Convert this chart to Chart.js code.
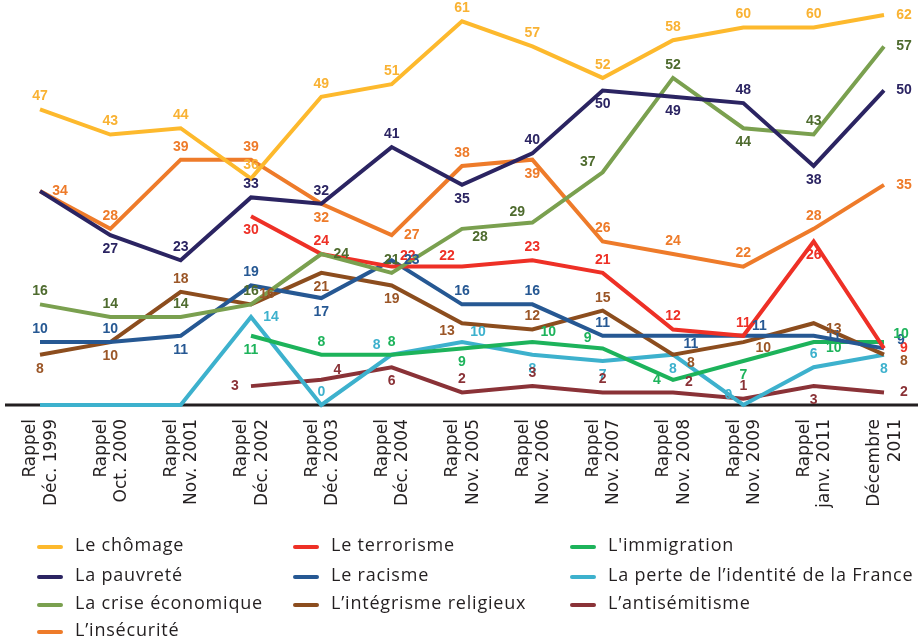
<!DOCTYPE html>
<html>
<head>
<meta charset="utf-8">
<script src="https://cdn.jsdelivr.net/npm/chart.js@4.4.0/dist/chart.umd.min.js"></script>
<style>
    html, body { margin: 0; padding: 0; background: #fff; }
    #chart { display: block; }
</style>
</head>
<body>
<canvas id="chart" width="918" height="643"></canvas>
<script>
// Survey waves (x axis)
const periods = [
    ['Rappel', 'Déc. 1999'], ['Rappel', 'Oct. 2000'], ['Rappel', 'Nov. 2001'],
    ['Rappel', 'Déc. 2002'], ['Rappel', 'Déc. 2003'], ['Rappel', 'Déc. 2004'],
    ['Rappel', 'Nov. 2005'], ['Rappel', 'Nov. 2006'], ['Rappel', 'Nov. 2007'],
    ['Rappel', 'Nov. 2008'], ['Rappel', 'Nov. 2009'], ['Rappel', 'janv. 2011'],
    ['Décembre', '2011']
];

// Values in % per theme
const chomage       = [47, 43, 44, 36, 49, 51, 61, 57, 52, 58, 60, 60, 62];
const pauvrete      = [34, 27, 23, 33, 32, 41, 35, 40, 50, 49, 48, 38, 50];
const crise         = [16, 14, 14, 16, 24, 21, 28, 29, 37, 52, 44, 43, 57];
const insecurite    = [34, 28, 39, 39, 32, 27, 38, 39, 26, 24, 22, 28, 35];
const terrorisme    = [null, null, null, 30, 24, 22, 22, 23, 21, 12, 11, 26, 9];
const racisme       = [10, 10, 11, 19, 17, 23, 16, 16, 11, 11, 11, 11, 9];
const integrisme    = [8, 10, 18, 16, 21, 19, 13, 12, 15, 8, 10, 13, 8];
const immigration   = [null, null, null, 11, 8, 8, 9, 10, 9, 4, 7, 10, 10];
const identite      = [0, 0, 0, 14, 0, 8, 10, 8, 7, 8, 0, 6, 8];
const antisemitisme = [null, null, null, 3, 4, 6, 2, 3, 2, 2, 1, 3, 2];

// Where each value label sits relative to its point ('-' = no label)
const spotOffsets = {
    t: [0, -13], b: [0, 14], r: [20, 0], l: [-16, 0],
    ru: [17, -8], rd: [20, 6],
    tr: [16, -10], tl: [-15, -10], br: [18, 8], bl: [-15, 8]
};
const spots = {
    chomage:       ['t', 't', 't', 't', 't', 't', 't', 't', 't', 't', 't', 't', 'r'],
    pauvrete:      ['-', 'b', 't', 't', 't', 't', 'b', 't', 'b', 'b', 't', 'b', 'r'],
    crise:         ['t', 't', 't', 't', 'r', 't', 'br', 'tl', 'tl', 't', 'b', 't', 'r'],
    insecurite:    ['r', 't', 't', 't', 'b', 'r', 't', 'b', 't', 't', 't', 't', 'r'],
    terrorisme:    ['-', '-', '-', 'b', 't', 'tr', 'tl', 't', 't', 't', 't', 'b', 'r'],
    racisme:       ['t', 't', 'b', 't', 'b', 'r', 't', 't', 't', 'br', 'tr', 'r', 'ru'],
    integrisme:    ['b', 'b', 't', 'tr', 'b', 'b', 'bl', 't', 't', 'br', 'rd', 'rd', 'rd'],
    immigration:   ['-', '-', '-', 'b', 't', 't', 'b', 'tr', 'tl', 'l', 'b', 'rd', 'ru'],
    identite:      ['-', '-', '-', 'r', 't', 'tl', 'tr', 'b', 'b', 'b', 'tl', 't', 'b'],
    antisemitisme: ['-', '-', '-', 'l', 'tr', 'b', 't', 't', 't', 'tr', 't', 'b', 'r']
};

const series = [
    { name: 'Le chômage', data: chomage, color: '#FDB92D', text: '#F9B233', spots: spots.chomage },
    { name: 'La pauvreté', data: pauvrete, color: '#2B2462', text: '#2B2462', spots: spots.pauvrete },
    { name: 'La crise économique', data: crise, color: '#7AA04F', text: '#4E6B2E', spots: spots.crise },
    { name: 'L’insécurité', data: insecurite, color: '#EE7B2A', text: '#EE7B2A', spots: spots.insecurite },
    { name: 'Le terrorisme', data: terrorisme, color: '#EE3026', text: '#EE3026', spots: spots.terrorisme },
    { name: 'Le racisme', data: racisme, color: '#265893', text: '#265893', spots: spots.racisme },
    { name: 'L’intégrisme religieux', data: integrisme, color: '#8C4D1E', text: '#9B5627', spots: spots.integrisme },
    { name: "L'immigration", data: immigration, color: '#1DB35B', text: '#1DB35B', spots: spots.immigration },
    { name: 'La perte de l’identité de la France', data: identite, color: '#3DB1CD', text: '#3DB1CD', spots: spots.identite },
    { name: 'L’antisémitisme', data: antisemitisme, color: '#8A3237', text: '#8A3237', spots: spots.antisemitisme }
];

// Legend laid out in columns
const legendColumns = [[0, 1, 2, 3], [4, 5, 6], [7, 8, 9]];
const legendColX = [37, 293, 570];
const legendRowY = [547, 577, 605, 632];

const baseline = {
    id: 'baseline',
    beforeDatasetsDraw(chart) {
        const ctx = chart.ctx;
        const y = chart.scales.y.getPixelForValue(0);
        ctx.save();
        ctx.strokeStyle = '#231F20';
        ctx.lineWidth = 3;
        ctx.beginPath();
        ctx.moveTo(5, y);
        ctx.lineTo(918, y);
        ctx.stroke();
        ctx.restore();
    }
};

const pointLabels = {
    id: 'pointLabels',
    afterDatasetsDraw(chart) {
        const ctx = chart.ctx;
        ctx.save();
        ctx.font = 'bold 14px "Liberation Sans", Arial, sans-serif';
        ctx.textAlign = 'center';
        ctx.textBaseline = 'middle';
        chart.data.datasets.forEach((ds, i) => {
            const meta = chart.getDatasetMeta(i);
            meta.data.forEach((pt, j) => {
                const v = ds.data[j];
                const spot = ds.spots[j];
                if (v === null || spot === '-') return;
                const [dx, dy] = spotOffsets[spot];
                ctx.fillStyle = ds.labelColor;
                ctx.fillText(v, pt.x + dx, pt.y + dy);
            });
        });
        ctx.restore();
    }
};

const columnLegend = {
    id: 'columnLegend',
    afterDraw(chart) {
        const ctx = chart.ctx;
        ctx.save();
        ctx.font = '18px "Open Sans", sans-serif';
        ctx.letterSpacing = '0.8px';
        ctx.textBaseline = 'middle';
        ctx.lineCap = 'round';
        ctx.lineWidth = 4;
        legendColumns.forEach((col, c) => {
            col.forEach((idx, r) => {
                const ds = chart.data.datasets[idx];
                const x = legendColX[c];
                const y = legendRowY[r];
                ctx.strokeStyle = ds.borderColor;
                ctx.beginPath();
                ctx.moveTo(x + 2, y);
                ctx.lineTo(x + 24, y);
                ctx.stroke();
                ctx.fillStyle = '#231F20';
                ctx.fillText(ds.label, x + 38, y - 1);
            });
        });
        ctx.restore();
    }
};

const chart = new Chart(document.getElementById('chart').getContext('2d'), {
    type: 'line',
    data: {
        labels: periods,
        datasets: series.map(s => ({
            label: s.name,
            data: s.data,
            borderColor: s.color,
            backgroundColor: s.color,
            labelColor: s.text,
            spots: s.spots,
            borderWidth: 4,
            pointRadius: 0,
            tension: 0,
            clip: false,
            fill: false
        }))
    },
    options: {
        responsive: false,
        animation: false,
        devicePixelRatio: 1,
        layout: {
            padding: { left: 40, right: 34, top: 15, bottom: 118 }
        },
        plugins: {
            legend: { display: false },
            tooltip: { enabled: false }
        },
        scales: {
            x: {
                offset: false,
                grid: { display: false, drawTicks: false },
                border: { display: false },
                ticks: {
                    autoSkip: false,
                    maxRotation: 90,
                    minRotation: 90,
                    padding: 14,
                    labelOffset: -9,
                    color: '#231F20',
                    font: { family: '"DejaVu Sans", sans-serif', size: 17, lineHeight: 1.2 }
                },
                afterFit(scale) {
                    scale.height = 120;
                    scale.paddingLeft = 0;
                    scale.paddingRight = 0;
                }
            },
            y: {
                display: false,
                min: 0,
                max: 62
            }
        }
    },
    plugins: [baseline, pointLabels, columnLegend]
});
</script>
</body>
</html>
